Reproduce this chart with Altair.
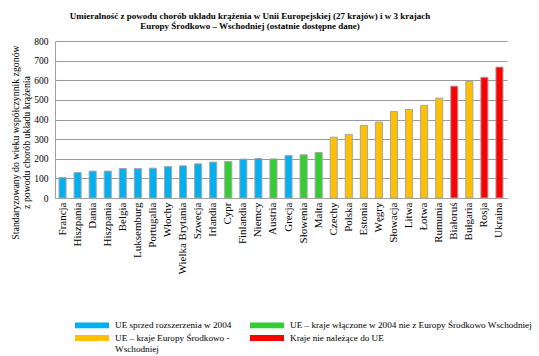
import altair as alt
import pandas as pd

countries = ["Francja", "Hiszpania", "Dania", "Hiszpania", "Belgia", "Luksemburg",
             "Portugalia", "Włochy", "Wielka Brytania", "Szwecja", "Irlandia", "Cypr",
             "Finlandia", "Niemcy", "Austria", "Grecja", "Słowenia", "Malta", "Czechy",
             "Polska", "Estonia", "Węgry", "Słowacja", "Litwa", "Łotwa", "Rumunia",
             "Białoruś", "Bułgaria", "Rosja", "Ukraina"]
values = [104, 130, 137, 137, 150, 150, 152, 160, 164, 174, 183, 186,
          198, 201, 199, 217, 220, 232, 310, 324, 370, 387, 441, 451,
          472, 509, 570, 594, 615, 667]
groups = ["B", "B", "B", "B", "B", "B", "B", "B", "B", "B", "B", "G",
          "B", "B", "G", "B", "G", "G", "O", "O", "O", "O", "O", "O",
          "O", "O", "R", "O", "R", "R"]

group_labels = {
    "B": "UE sprzed rozszerzenia w 2004",
    "G": "UE – kraje włączone w 2004 nie z Europy Środkowo Wschodniej",
    "O": "UE – kraje Europy Środkowo - Wschodniej",
    "R": "Kraje nie należące do UE",
}
legend_order = [group_labels[k] for k in ["B", "G", "O", "R"]]
legend_colors = ["#00B0F0", "#33CC33", "#FFC000", "#FF0000"]

df = pd.DataFrame({
    "idx": list(range(len(countries))),
    "kraj": countries,
    "wartosc": values,
    "grupa": [group_labels[g] for g in groups],
})

names_js = "[" + ",".join("'" + c + "'" for c in countries) + "]"
FONT = "Liberation Serif"

chart = alt.Chart(df).mark_bar(stroke="#A6A6A6", strokeWidth=1).encode(
    x=alt.X("idx:O", title=None,
            scale=alt.Scale(paddingInner=0.53, paddingOuter=0.265),
            axis=alt.Axis(labelExpr=names_js + "[datum.value]", labelAngle=-90,
                          labelFont=FONT, labelFontSize=11, labelColor="black",
                          labelPadding=4, ticks=False, domainColor="#A0A0A0")),
    y=alt.Y("wartosc:Q",
            scale=alt.Scale(domain=[0, 800]),
            axis=alt.Axis(values=list(range(0, 801, 100)), ticks=False,
                          labelFont=FONT, labelFontSize=9.5, labelColor="black",
                          labelPadding=7, domainColor="#A0A0A0",
                          gridColor="#999999", gridWidth=1.2,
                          title=["Standaryzowany do wieku współczynnik zgonów",
                                 "z powodu chorób układu krążenia"],
                          titleFont=FONT, titleFontSize=9.8, titleFontWeight="normal",
                          titleColor="black", titleX=-40, titleY=101,
                          titleBaseline="middle", titleLineHeight=11)),
    color=alt.Color("grupa:N",
                    scale=alt.Scale(domain=legend_order, range=legend_colors),
                    legend=alt.Legend(
                        title=None, orient="none", legendX=20, legendY=280,
                        direction="horizontal", columns=2, columnPadding=18,
                        rowPadding=3, clipHeight=8,
                        symbolType="M-1,-0.17L1,-0.17L1,0.17L-1,0.17Z",
                        symbolSize=1156, symbolStrokeWidth=0, symbolOpacity=1,
                        labelFont=FONT, labelFontSize=9.2, labelColor="black",
                        labelOffset=6, labelLimit=400,
                        labelExpr="datum.label == '" + group_labels["O"] +
                                  "' ? ['UE – kraje Europy Środkowo -', 'Wschodniej'] : datum.label")),
).properties(
    width=452, height=157,
    title=alt.TitleParams(
        ["Umieralność z powodu chorób układu krążenia  w Unii Europejskiej  (27 krajów)  i w  3 krajach",
         "Europy Środkowo  – Wschodniej  (ostatnie dostępne dane)"],
        font=FONT, fontSize=9, fontWeight="bold", color="black",
        anchor="middle", dx=-31, offset=5, lineHeight=10),
    autosize=alt.AutoSizeParams(type="none"),
    padding={"left": 55, "top": 41, "right": 32, "bottom": 158},
).configure_view(stroke=None)

chart.save("out.html", embed_options={"renderer": "svg", "actions": False})
